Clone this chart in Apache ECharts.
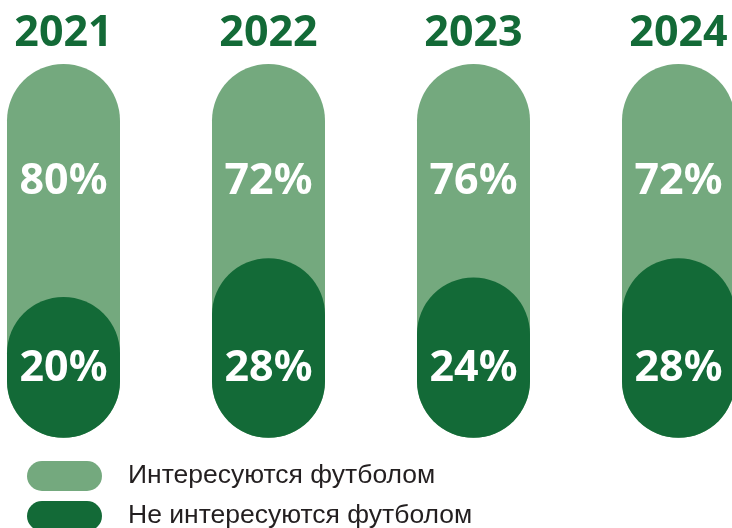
<!DOCTYPE html>
<html>
<head>
<meta charset="utf-8">
<script src="https://cdn.jsdelivr.net/npm/echarts@6/dist/echarts.min.js"></script>
<style>
html,body{margin:0;padding:0;background:#fff;}
#chart{width:732px;height:528px;}
</style>
</head>
<body>
<div id="chart"></div>
<script>
const years = ['2021', '2022', '2023', '2024'];
const interested = [80, 72, 76, 72];
const notInterested = [20, 28, 24, 28];
const seriesNames = ['Интересуются футболом', 'Не интересуются футболом'];

const LIGHT = '#74a97e';
const DARK = '#136a37';
const Y_MIN = -9;
const Y_MAX = 68;
const PILL_W = 113;
const NUM_FONT = 'Noto Sans';

const chart = echarts.init(document.getElementById('chart'));

function pillLabel(x, y, text) {
  return {
    type: 'text',
    style: {
      x: x, y: y,
      text: text,
      fill: '#fff', font: 'bold 43px "' + NUM_FONT + '"',
      align: 'center', verticalAlign: 'middle'
    }
  };
}

function trackItem(params, api) {
  const i = api.value(0);
  const top = api.coord([i, Y_MAX]);
  const bottom = api.coord([i, Y_MIN]);
  return {
    type: 'group',
    children: [
      {
        type: 'rect',
        shape: { x: top[0] - PILL_W / 2, y: top[1], width: PILL_W, height: bottom[1] - top[1], r: PILL_W / 2 },
        style: { fill: LIGHT }
      },
      pillLabel(top[0], top[1] + 118, api.value(1) + '%')
    ]
  };
}

function darkItem(params, api) {
  const i = api.value(0);
  const top = api.coord([i, api.value(1)]);
  const bottom = api.coord([i, Y_MIN]);
  return {
    type: 'group',
    children: [
      {
        type: 'rect',
        shape: { x: top[0] - PILL_W / 2, y: top[1], width: PILL_W, height: bottom[1] - top[1], r: PILL_W / 2 },
        style: { fill: DARK }
      },
      pillLabel(top[0], bottom[1] - 69, api.value(1) + '%')
    ]
  };
}

const pillPath = 'path://M15,0L60,0A15,15,0,0,1,60,30L15,30A15,15,0,0,1,15,0Z';

function legendFor(idx, color, top) {
  return {
    orient: 'vertical',
    left: 22,
    top: top,
    itemWidth: 75,
    itemHeight: 30,
    selectedMode: false,
    textStyle: {
      fontFamily: 'Liberation Sans',
      fontSize: 26.5,
      color: '#231f20',
      padding: [0, 0, 0, 21]
    },
    data: [{ name: seriesNames[idx], icon: pillPath, itemStyle: { color: color } }]
  };
}

chart.setOption({
  animation: false,
  backgroundColor: '#fff',
  grid: { left: 63.5, right: 53.5, top: 64, bottom: 528 - 437.7 },
  xAxis: {
    type: 'category',
    data: years,
    position: 'top',
    boundaryGap: false,
    axisLine: { show: false },
    axisTick: { show: false },
    splitLine: { show: false },
    axisLabel: {
      margin: 9,
      fontFamily: NUM_FONT,
      fontWeight: 'bold',
      fontSize: 43,
      color: DARK
    }
  },
  yAxis: {
    type: 'value',
    min: Y_MIN,
    max: Y_MAX,
    show: false
  },
  legend: [
    legendFor(0, LIGHT, 456),
    legendFor(1, DARK, 496)
  ],
  series: [
    {
      name: seriesNames[0],
      type: 'custom',
      renderItem: trackItem,
      itemStyle: { color: LIGHT },
      clip: false,
      data: years.map((y, i) => [i, interested[i]])
    },
    {
      name: seriesNames[1],
      type: 'custom',
      renderItem: darkItem,
      itemStyle: { color: DARK },
      clip: false,
      data: years.map((y, i) => [i, notInterested[i]])
    }
  ]
});
</script>
</body>
</html>
